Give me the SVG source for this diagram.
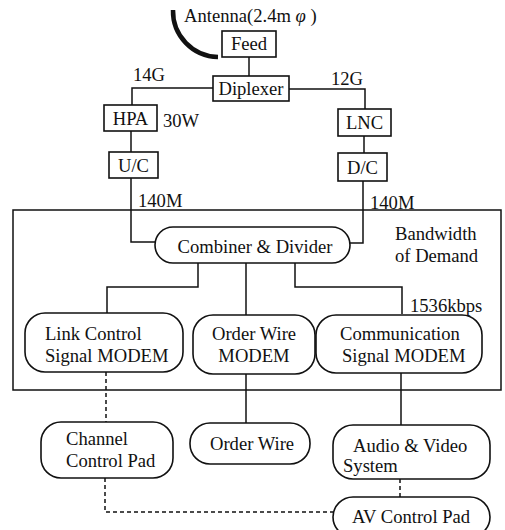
<svg xmlns="http://www.w3.org/2000/svg" width="505" height="530" viewBox="0 0 505 530">
<style>
text{font-family:"Liberation Serif","Times New Roman",serif;font-size:18.6px;fill:#111}
.b{fill:#fff;stroke:#111;stroke-width:1.6}
.l{fill:none;stroke:#111;stroke-width:1.5}
.d{fill:none;stroke:#111;stroke-width:1.5;stroke-dasharray:4 3}
.m{text-anchor:middle}
</style>
<rect width="505" height="530" fill="#fff"/>
<path d="M173,10 A46,46 0 0 0 218,57" fill="none" stroke="#111" stroke-width="4.5"/>
<text x="184" y="22" font-size="17.5">Antenna(2.4m <tspan font-style="italic">φ</tspan> )</text>
<g id="frame"><rect x="13" y="210" width="488" height="180" class="l"/></g>
<g id="connectors">
<path class="l" d="M249,57V76"/>
<path class="l" d="M213,88H132V105"/>
<path class="l" d="M289,89H365V109"/>
<path class="l" d="M131,131V152"/>
<path class="l" d="M364,136V153"/>
<path class="l" d="M131,178V242H157"/>
<path class="l" d="M363,181V243H347"/>
<path class="l" d="M198,263V287H107V313"/>
<path class="l" d="M246,263V315"/>
<path class="l" d="M295,263V287H402V314"/>
<path class="l" d="M246,374V423"/>
<path class="l" d="M401,373V425"/>
<path class="d" d="M106,372V422"/>
<path class="d" d="M400,479V497"/>
<path class="d" d="M105,478V512H333"/>
</g>
<text x="133" y="81">14G</text>
<text x="331" y="85">12G</text>
<text x="163" y="127">30W</text>
<text x="138" y="207">140M</text>
<text x="370" y="209">140M</text>
<text x="395" y="240">Bandwidth</text>
<text x="395" y="262">of Demand</text>
<text x="410" y="312">1536kbps</text>
<g id="feed"><rect x="222" y="31" width="54" height="26" class="b"/><text x="249" y="50" class="m">Feed</text></g>
<g id="diplexer"><rect x="213" y="76" width="76" height="25" class="b"/><text x="251" y="95" class="m">Diplexer</text></g>
<g id="hpa"><rect x="104" y="105" width="53" height="26" class="b"/><text x="130.5" y="125" class="m">HPA</text></g>
<g id="uc"><rect x="109" y="152" width="49" height="26" class="b"/><text x="133.5" y="172" class="m">U/C</text></g>
<g id="lnc"><rect x="338" y="109" width="53" height="27" class="b"/><text x="364.5" y="129" class="m">LNC</text></g>
<g id="dc"><rect x="338" y="153" width="49" height="28" class="b"/><text x="362.5" y="174" class="m">D/C</text></g>
<g id="combiner"><rect x="155" y="227" width="195" height="36" rx="18" class="b"/><text x="255" y="253" class="m">Combiner &amp; Divider</text></g>
<g id="link-modem"><rect x="25" y="313" width="158" height="59" rx="20" class="b"/><text x="45" y="340">Link Control</text><text x="45" y="362">Signal MODEM</text></g>
<g id="ow-modem"><rect x="193" y="315" width="122" height="59" rx="20" class="b"/><text x="212" y="340">Order Wire</text><text x="254" y="362" class="m">MODEM</text></g>
<g id="comm-modem"><rect x="316" y="315" width="166" height="58" rx="20" class="b"/><text x="340" y="340">Communication</text><text x="342" y="362">Signal MODEM</text></g>
<g id="channel-pad"><rect x="41" y="422" width="132" height="56" rx="20" class="b"/><text x="66" y="445">Channel</text><text x="66" y="467">Control Pad</text></g>
<g id="order-wire"><rect x="190" y="423" width="120" height="41" rx="20" class="b"/><text x="210" y="450">Order Wire</text></g>
<g id="av-system"><rect x="333" y="425" width="157" height="54" rx="20" class="b"/><text x="353" y="452">Audio &amp; Video</text><text x="343" y="472">System</text></g>
<g id="av-pad"><rect x="333" y="497" width="157" height="40" rx="20" class="b"/><text x="352" y="523">AV Control Pad</text></g>
</svg>
